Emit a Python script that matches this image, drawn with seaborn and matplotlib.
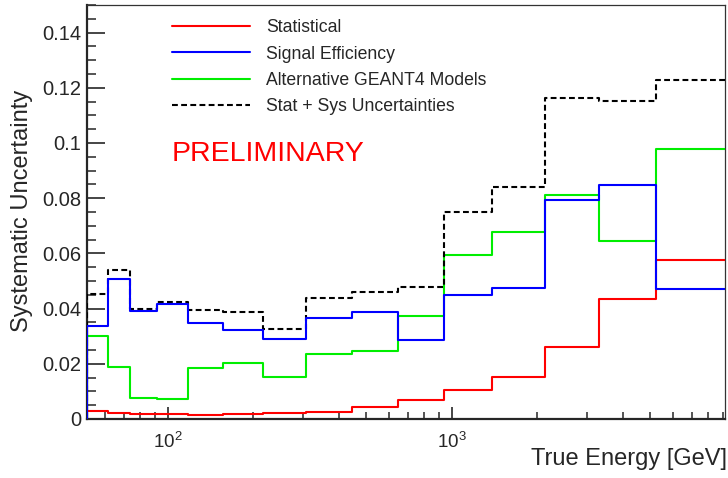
import numpy as np
import pandas as pd
import matplotlib
matplotlib.use("Agg")
import matplotlib.pyplot as plt
import matplotlib.ticker as mticker
import seaborn as sns

# Bin edges in true energy [GeV] (log spaced)
bin_edges = [52, 61.4, 73.6, 91.4, 117.7, 157, 216, 307, 446, 647,
             937, 1381, 2129, 3310, 5222, 9160]

# Uncertainty per bin
statistical = [0.0029, 0.0023, 0.0019, 0.0017, 0.0016, 0.0017, 0.0020, 0.0026,
               0.0043, 0.0070, 0.0105, 0.0153, 0.0261, 0.0436, 0.0577]
signal_eff = [0.0337, 0.0507, 0.0391, 0.0415, 0.0347, 0.0322, 0.0291, 0.0366,
              0.0386, 0.0288, 0.0448, 0.0475, 0.0795, 0.0848, 0.0472]
geant4_models = [0.0301, 0.0187, 0.0076, 0.0071, 0.0184, 0.0203, 0.0152, 0.0237,
                 0.0247, 0.0375, 0.0596, 0.0679, 0.0812, 0.0646, 0.0979]
stat_plus_sys = [0.0454, 0.0540, 0.0398, 0.0424, 0.0394, 0.0386, 0.0327, 0.0438,
                 0.0461, 0.0478, 0.0751, 0.0841, 0.1164, 0.1151, 0.1229]

series_names = ["Statistical", "Signal Efficiency",
                "Alternative GEANT4 Models", "Stat + Sys Uncertainties"]

sns.set_style("ticks")
plt.rcParams["font.family"] = ["Liberation Sans", "DejaVu Sans"]
plt.rcParams["mathtext.fontset"] = "custom"
plt.rcParams["mathtext.rm"] = "Liberation Sans"
plt.rcParams["mathtext.it"] = "Liberation Sans"


def step_frame(values, name):
    # histogram outline: rise from zero at the first edge, then one step per bin
    xs = [bin_edges[0]] + list(bin_edges)
    ys = [0.0] + list(values) + [values[-1]]
    return pd.DataFrame({"energy": xs, "unc": ys, "series": name})


fig = plt.figure(figsize=(7.28, 4.78), dpi=100)
ax = fig.add_axes([87 / 728, 1 - 419 / 478, (725 - 87) / 728, (419 - 5) / 478])
ax.set_xscale("log")

styles = {
    "Statistical": dict(color="#ff0000", zorder=3),
    "Alternative GEANT4 Models": dict(color="#00ee00", zorder=4),
    "Stat + Sys Uncertainties": dict(color="black", zorder=5, dashes=(2.8, 1.6)),
    "Signal Efficiency": dict(color="#0000ff", zorder=6),
}
data = {
    "Statistical": statistical,
    "Signal Efficiency": signal_eff,
    "Alternative GEANT4 Models": geant4_models,
    "Stat + Sys Uncertainties": stat_plus_sys,
}

handles = {}
for name in ["Statistical", "Alternative GEANT4 Models",
             "Stat + Sys Uncertainties", "Signal Efficiency"]:
    st = dict(styles[name])
    dashes = st.pop("dashes", None)
    df = step_frame(data[name], name)
    sns.lineplot(data=df, x="energy", y="unc", ax=ax, sort=False, estimator=None,
                 drawstyle="steps-post", linewidth=1.5, label=name, **st)
    line = ax.get_lines()[-1]
    if dashes is not None:
        line.set_dashes(dashes)
    handles[name] = line

ax.set_xlim(bin_edges[0], bin_edges[-1])
ax.set_ylim(0, 0.15)

# ROOT-like axes
ax.xaxis.set_major_locator(mticker.LogLocator(base=10))
ax.xaxis.set_minor_locator(mticker.LogLocator(base=10, subs=np.arange(2, 10)))
ax.xaxis.set_minor_formatter(mticker.NullFormatter())
ax.yaxis.set_major_locator(mticker.MultipleLocator(0.02))
ax.yaxis.set_minor_locator(mticker.MultipleLocator(0.005))
ax.yaxis.set_major_formatter(mticker.FormatStrFormatter("%g"))

ax.tick_params(axis="y", which="major", direction="in", length=13, width=1.2,
               labelsize=14.5, pad=4, right=False)
ax.tick_params(axis="y", which="minor", direction="in", length=6.5, width=1.1,
               right=False)
ax.tick_params(axis="x", which="major", direction="in", length=8.6, width=1.2,
               labelsize=13.5, pad=9, top=False)
ax.tick_params(axis="x", which="minor", direction="in", length=5, width=1.1,
               top=False)
for side in ["left", "bottom"]:
    ax.spines[side].set_linewidth(1.6)
for side in ["top", "right"]:
    ax.spines[side].set_linewidth(0.9)
    ax.spines[side].set_color("#333333")

ax.set_xlabel("")
ax.set_ylabel("")
fig.text(727 / 728, 1 - 459 / 478, "True Energy [GeV]", ha="right", va="center",
         fontsize=17)
fig.text(22 / 728, 1 - 211 / 478, "Systematic Uncertainty", ha="center",
         va="center", rotation=90, fontsize=17)
fig.text(172 / 728, 1 - 154 / 478, "PRELIMINARY", ha="left", va="center",
         fontsize=20.5, color="#ff0000")

leg = ax.legend([handles[n] for n in series_names], series_names,
                loc="upper left", bbox_to_anchor=(167 / 728, 1 - 14 / 478),
                bbox_transform=fig.transFigure, frameon=False, fontsize=12.7,
                handlelength=4.4, handletextpad=0.9, labelspacing=0.53,
                borderpad=0.3, borderaxespad=0)

fig.savefig("out.png", dpi=100)
